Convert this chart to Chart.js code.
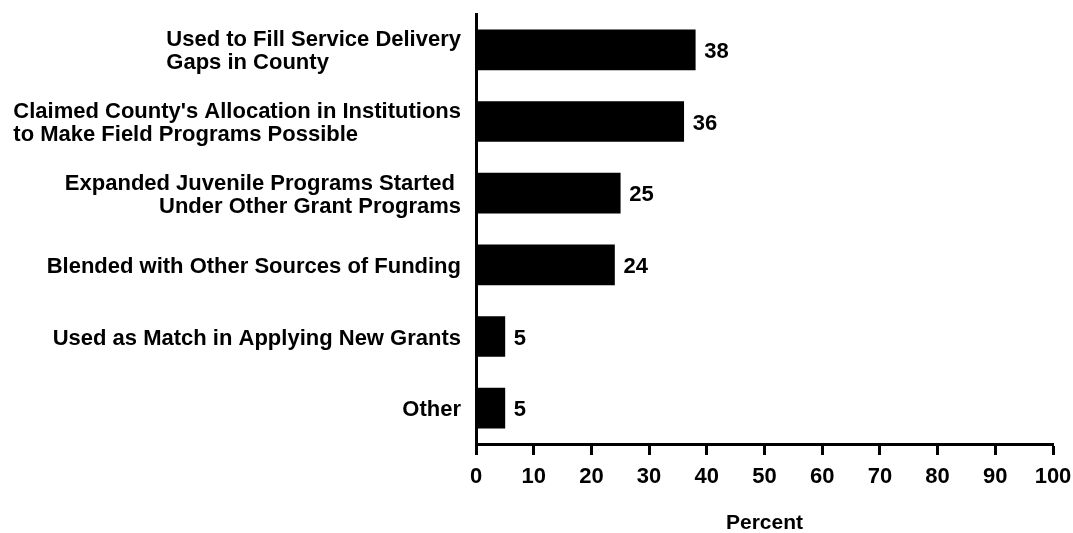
<!DOCTYPE html>
<html>
<head>
<meta charset="utf-8">
<script src="https://cdn.jsdelivr.net/npm/chart.js@4/dist/chart.umd.min.js"></script>
<style>
    body { margin: 0; background: #fff; }
    canvas { display: block; }
</style>
</head>
<body>
<canvas id="chart" width="1073" height="533"></canvas>
<script>
const categories = [
    ['Used to Fill Service Delivery', 'Gaps in County'],
    ["Claimed County's Allocation in Institutions", 'to Make Field Programs Possible'],
    ['Expanded Juvenile Programs Started ', 'Under Other Grant Programs'],
    ['Blended with Other Sources of Funding'],
    ['Used as Match in Applying New Grants'],
    ['Other']
];
const percents = [38, 36, 25, 24, 5, 5];
const xTicks = [0, 10, 20, 30, 40, 50, 60, 70, 80, 90, 100];
const xTitle = 'Percent';

const FAMILY = "'Liberation Sans', Arial, sans-serif";
const FONT = "bold 22px " + FAMILY;

// category labels: each block sits left of the axis, lines left or right aligned like the original
const categoryLabels = {
    id: 'categoryLabels',
    afterDraw(chart, args, opts) {
        const ctx = chart.ctx;
        const yScale = chart.scales.y;
        const right = chart.chartArea.left - 15;
        ctx.save();
        ctx.font = FONT;
        ctx.fillStyle = '#000';
        ctx.textBaseline = 'middle';
        categories.forEach((lines, i) => {
            const cy = yScale.getPixelForValue(i) + 2;
            const widths = lines.map(l => ctx.measureText(l).width);
            const blockW = Math.max(...widths);
            const lh = 23;
            lines.forEach((line, j) => {
                const y = cy - (lines.length - 1) * lh / 2 + j * lh;
                if (opts.align[i] === 'left') {
                    ctx.textAlign = 'left';
                    ctx.fillText(line, right - blockW, y);
                } else {
                    ctx.textAlign = 'right';
                    ctx.fillText(line, right, y);
                }
            });
        });
        ctx.restore();
    }
};

// value labels to the right of each bar
const valueLabels = {
    id: 'valueLabels',
    afterDatasetsDraw(chart) {
        const ctx = chart.ctx;
        const meta = chart.getDatasetMeta(0);
        ctx.save();
        ctx.font = FONT;
        ctx.fillStyle = '#000';
        ctx.textAlign = 'left';
        ctx.textBaseline = 'middle';
        meta.data.forEach((bar, i) => {
            ctx.fillText(String(percents[i]), bar.x + 9, bar.y + 2);
        });
        ctx.restore();
    }
};

new Chart(document.getElementById('chart'), {
    type: 'bar',
    data: {
        labels: categories,
        datasets: [{
            data: percents,
            backgroundColor: '#000',
            borderWidth: 0,
            barThickness: 40
        }]
    },
    options: {
        indexAxis: 'y',
        responsive: false,
        animation: false,
        devicePixelRatio: 1,
        layout: { padding: { top: 14, right: 20, left: 0, bottom: 0 } },
        plugins: {
            legend: { display: false },
            tooltip: { enabled: false },
            categoryLabels: { align: ['left', 'left', 'right', 'right', 'right', 'right'] }
        },
        scales: {
            x: {
                type: 'linear',
                min: 0,
                max: 100,
                afterBuildTicks: scale => { scale.ticks = xTicks.map(v => ({ value: v })); },
                afterFit: scale => {
                    scale.height = 89;
                    scale.paddingRight = 0;
                    scale.paddingLeft = 0;
                },
                grid: {
                    drawOnChartArea: false,
                    drawTicks: true,
                    tickLength: 11,
                    tickWidth: 3,
                    tickColor: '#000'
                },
                border: { display: true, color: '#000', width: 3 },
                ticks: {
                    color: '#000',
                    padding: 9,
                    maxRotation: 0,
                    font: { family: FAMILY, size: 22, weight: 'bold' }
                },
                title: {
                    display: true,
                    text: xTitle,
                    color: '#000',
                    padding: { top: 18, bottom: -3 },
                    font: { family: FAMILY, size: 21, weight: 'bold' }
                }
            },
            y: {
                afterFit: scale => { scale.width = 476; },
                grid: { display: false },
                border: { display: true, color: '#000', width: 3 },
                ticks: { display: false }
            }
        }
    },
    plugins: [categoryLabels, valueLabels]
});
</script>
</body>
</html>
